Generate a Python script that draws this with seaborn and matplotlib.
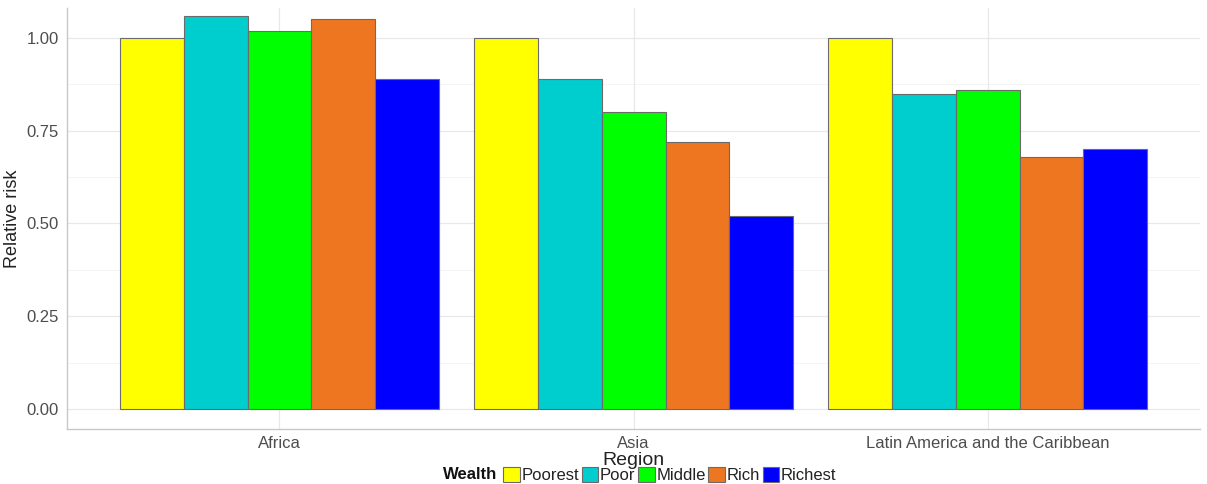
import matplotlib
matplotlib.use("Agg")
import matplotlib.pyplot as plt
import seaborn as sns
import pandas as pd
from matplotlib.patches import Patch

regions = ["Africa", "Asia", "Latin America and the Caribbean"]
wealth = ["Poorest", "Poor", "Middle", "Rich", "Richest"]
africa = [1.00, 1.06, 1.02, 1.05, 0.89]
asia = [1.00, 0.89, 0.80, 0.72, 0.52]
latam = [1.00, 0.85, 0.86, 0.68, 0.70]
colors = ["#ffff00", "#00cdcd", "#00ff00", "#ee7621", "#0000ff"]

rows = []
for reg, vals in zip(regions, [africa, asia, latam]):
    for w, v in zip(wealth, vals):
        rows.append({"Region": reg, "Wealth": w, "Relative risk": v})
df = pd.DataFrame(rows)

sns.set_style("white")
plt.rcParams["font.family"] = ["Liberation Sans", "DejaVu Sans"]

fig = plt.figure(figsize=(12.07, 4.84), dpi=100)
ax = fig.add_axes([0.0555, 0.1136, 0.939, 0.870])

sns.barplot(data=df, x="Region", y="Relative risk", hue="Wealth",
            order=regions, hue_order=wealth, palette=colors,
            width=0.9, gap=0, edgecolor="#6b6b6b", linewidth=0.8,
            saturation=1, ax=ax, legend=False, zorder=3)

ax.set_xlim(-0.6, 2.6)
ax.set_ylim(-0.054, 1.081)
ax.set_yticks([0, 0.25, 0.5, 0.75, 1.0])
ax.set_yticklabels(["0.00", "0.25", "0.50", "0.75", "1.00"])
for y in [0.125, 0.375, 0.625, 0.875]:
    ax.axhline(y, color="#f3f3f3", lw=0.6, zorder=0)
for y in [0, 0.25, 0.5, 0.75, 1.0]:
    ax.axhline(y, color="#e8e8e8", lw=0.9, zorder=0)
for x in range(3):
    ax.axvline(x, color="#e8e8e8", lw=0.9, zorder=0)

for s in ["top", "right"]:
    ax.spines[s].set_visible(False)
for s in ["left", "bottom"]:
    ax.spines[s].set_color("#c8c8c8")
    ax.spines[s].set_linewidth(1.0)

ax.tick_params(axis="both", which="both", length=3, color="#c8c8c8",
               labelsize=12, labelcolor="#4d4d4d")
ax.tick_params(axis="x", pad=2)
ax.tick_params(axis="y", pad=3)
ax.set_xlabel("Region", fontsize=14, color="#222222", labelpad=1)
ax.set_ylabel("Relative risk", fontsize=13, color="#222222", labelpad=4,
              family=["Liberation Sans Narrow", "Liberation Sans", "DejaVu Sans"])

handles = [Patch(facecolor=c, edgecolor="#6b6b6b", lw=0.8) for c in colors]
fig.text(0.367, 0.019, "Wealth", fontsize=12, fontweight="bold",
         color="#111111", va="center")
leg = fig.legend(handles, wealth, loc="center left", bbox_to_anchor=(0.417, 0.019),
                 ncol=5, frameon=False, fontsize=12, handlelength=1.0,
                 handleheight=1.0, handletextpad=0.1, columnspacing=0.15,
                 borderaxespad=0, borderpad=0)
for t in leg.get_texts():
    t.set_color("#222222")

fig.savefig("out.png", dpi=100)
